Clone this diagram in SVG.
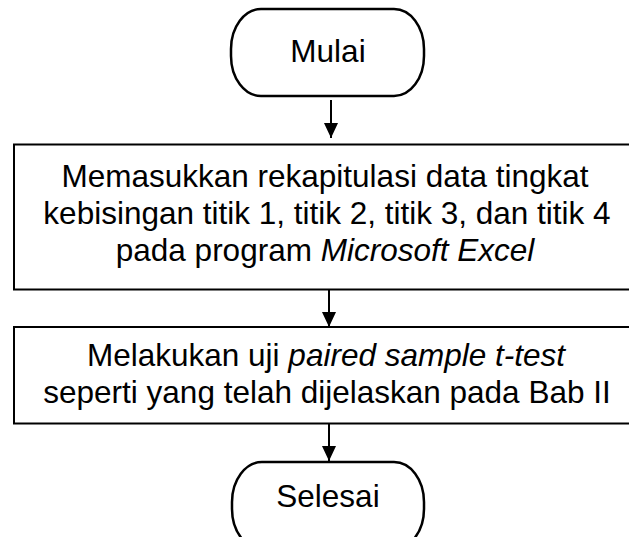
<svg xmlns="http://www.w3.org/2000/svg" width="629" height="537" viewBox="0 0 629 537">
<defs>
<style>
.t{font-family:"Liberation Sans",Arial,sans-serif;font-size:31.5px;fill:#000;text-anchor:middle}
.i{font-style:italic}
.term{fill:#fff;stroke:#000;stroke-width:2.5}
.box{fill:#fff;stroke:#000;stroke-width:2}
.conn{stroke:#000;stroke-width:2;fill:none}
</style>
<marker id="ah" markerUnits="userSpaceOnUse" markerWidth="16" markerHeight="16" viewBox="0 0 16 16" refX="15" refY="8" orient="auto">
<path d="M0,1 L15,8 L0,15 Z" fill="#000"/>
</marker>
</defs>
<rect width="629" height="537" fill="#fff"/>
<g id="connectors">
<line class="conn" x1="331" y1="100" x2="331" y2="138" marker-end="url(#ah)"/>
<line class="conn" x1="329" y1="290" x2="329" y2="327" marker-end="url(#ah)"/>
<line class="conn" x1="329" y1="424" x2="329" y2="461" marker-end="url(#ah)"/>
</g>
<g id="mulai">
<rect class="term" x="231" y="9" width="193" height="87" rx="30" ry="40"/>
<text class="t" x="328" y="62">Mulai</text>
</g>
<g id="input">
<rect class="box" x="14" y="144.5" width="624" height="145"/>
<text class="t" x="325" y="187">Memasukkan rekapitulasi data tingkat</text>
<text class="t" x="327" y="224">kebisingan titik 1, titik 2, titik 3, dan titik 4</text>
<text class="t" x="325" y="261">pada program <tspan class="i">Microsoft Excel</tspan></text>
</g>
<g id="uji">
<rect class="box" x="14" y="327" width="624" height="96.5"/>
<text class="t" x="326" y="366">Melakukan uji <tspan class="i">paired sample t-test</tspan></text>
<text class="t" x="327" y="403">seperti yang telah dijelaskan pada Bab II</text>
</g>
<g id="selesai">
<rect class="term" x="232" y="462" width="192" height="87" rx="30" ry="40"/>
<text class="t" x="328" y="507">Selesai</text>
</g>
</svg>
